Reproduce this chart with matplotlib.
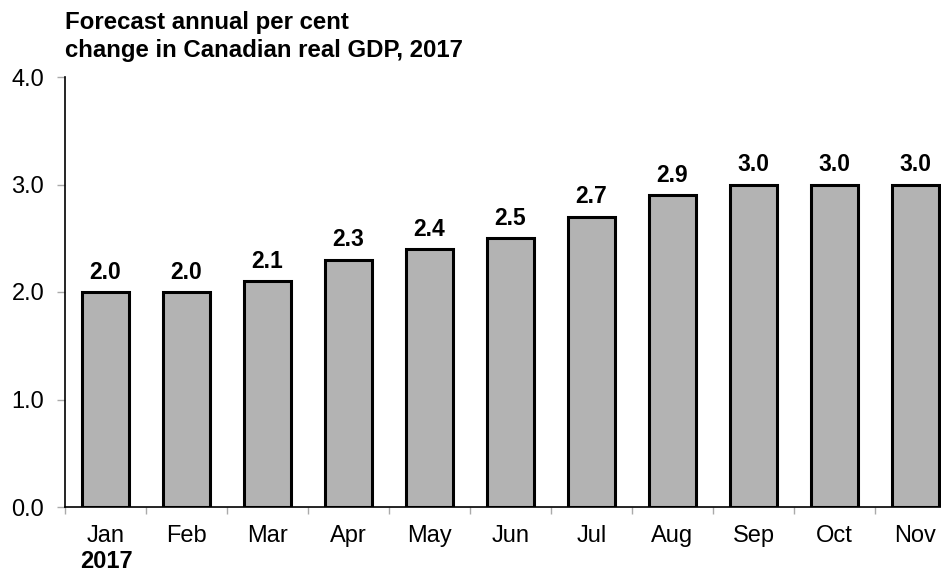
import matplotlib
matplotlib.use("Agg")
from matplotlib import pyplot as plt

plt.rcParams["font.family"] = ["Liberation Sans", "DejaVu Sans"]

months = ["Jan", "Feb", "Mar", "Apr", "May", "Jun", "Jul", "Aug", "Sep", "Oct", "Nov"]
forecast = [2.0, 2.0, 2.1, 2.3, 2.4, 2.5, 2.7, 2.9, 3.0, 3.0, 3.0]
y_ticks = [0.0, 1.0, 2.0, 3.0, 4.0]

W, H = 941, 571
fig = plt.figure(figsize=(W / 100, H / 100), dpi=100)
# the plot area runs past the right edge, so the last category boundary is cut off
ax = fig.add_axes([65 / W, (H - 507) / H, 891 / W, 430 / H])

x = list(range(len(months)))
ax.bar(x, forecast, width=0.57, color="#b3b3b3", edgecolor="black", linewidth=2.2)

for xi, v in zip(x, forecast):
    ax.annotate(f"{v:.1f}", (xi, v), xytext=(0, 6), textcoords="offset points",
                ha="center", va="bottom", fontsize=16.5, fontweight="bold")

ax.set_xlim(-0.5, len(months) - 0.5)
ax.set_ylim(0, 4.0)
ax.set_yticks(y_ticks)
ax.set_yticklabels([f"{t:.1f}" for t in y_ticks], fontsize=17)

# category labels sit between the minor boundary ticks
ax.set_xticks(x)
ax.set_xticklabels(months, fontsize=17)
ax.set_xticks([i - 0.5 for i in range(len(months) + 1)], minor=True)
ax.tick_params(axis="x", which="major", length=0, pad=13)
ax.tick_params(axis="x", which="minor", length=5, color="#aaaaaa", width=1)
ax.tick_params(axis="y", length=6, color="#aaaaaa", width=1, pad=9)

for side in ["top", "right"]:
    ax.spines[side].set_visible(False)
ax.spines["left"].set_linewidth(1.2)
ax.spines["bottom"].set_linewidth(1.2)

fig.text(65 / W, 1 - 22 / H, "Forecast annual per cent", fontsize=17.3,
         fontweight="bold", va="center", ha="left")
fig.text(65 / W, 1 - 50 / H, "change in Canadian real GDP, 2017", fontsize=17.3,
         fontweight="bold", va="center", ha="left")
fig.text(106 / W, 1 - 561 / H, "2017", fontsize=17, fontweight="bold",
         va="center", ha="center")

plt.savefig("out.png", dpi=100)
